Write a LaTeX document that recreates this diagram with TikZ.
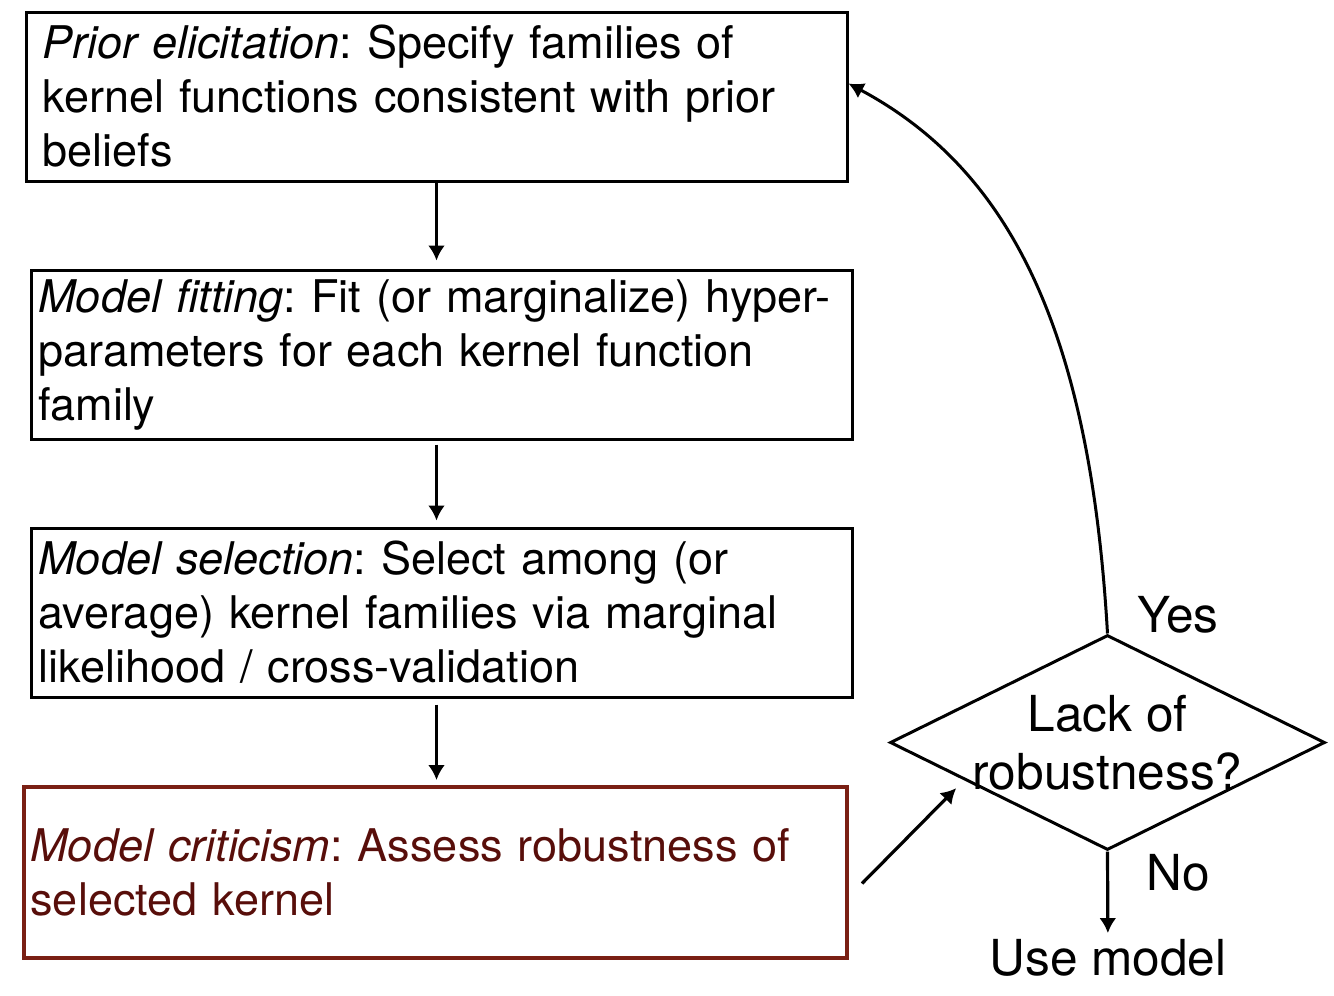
\documentclass[tikz,border=0pt]{standalone}
\usepackage{fontspec}
\setmainfont{TeX Gyre Heros}
\usetikzlibrary{shapes.geometric,arrows.meta,calc}
\definecolor{critline}{RGB}{122,32,20}
\definecolor{crittext}{RGB}{88,14,10}
\frenchspacing

\begin{document}
\begin{tikzpicture}[x=.5pt,y=-.5pt,font=\fontsize{22.5}{27}\selectfont,
    stage/.style={draw,line width=1.5pt,minimum width=410.5pt,minimum height=84.5pt,
      text width=403pt,align=left,inner xsep=3.5pt},
    link/.style={line width=1.6pt,-{Latex[length=7.5pt,width=8.5pt]}},
    big/.style={font=\fontsize{24.8}{29}\selectfont}]
      \useasboundingbox (0,0) rectangle (1334,996);
      \node[stage,text width=394pt,inner xsep=8pt] (prior) at (436.5,96.5)
        {\textit{Prior elicitation}: Specify families of\\kernel functions consistent with prior\\beliefs};
      \node[stage] (fit) at (441.5,354.5)
        {\textit{Model fitting}: Fit (or marginalize) hyper-\\parameters for each kernel function\\family};
      \node[stage] (select) at (441.5,612.5)
        {\textit{Model selection}: Select among (or\\average) kernel families via marginal\\likelihood / cross-validation};
      \node[stage,draw=critline,text=crittext,line width=2pt,minimum width=411.5pt,
        minimum height=85.5pt,inner xsep=3pt,text width=405pt] (crit) at (435.5,872.5)
        {\textit{Model criticism}: Assess robustness of\\selected kernel};
      \node[draw,diamond,line width=1.5pt,minimum width=217.5pt,minimum height=107.5pt,
        inner sep=0pt] (check) at (1107.5,742.5) {};
      \node[big,align=center] (ask) at (check) {Lack of\\robustness?};
      \node[big,inner ysep=3pt] (use) at (1108,958) {Use model};
      \node[big] (yes) at (1178,615) {Yes};
      \node[big] (no) at (1178,873) {No};
      \draw[link,shorten >=4pt] (prior.south) -- (prior.south |- fit.north);
      \draw[link,shorten <=2pt,shorten >=3pt] (prior.south |- fit.south) -- (prior.south |- select.north);
      \draw[link,shorten <=3pt,shorten >=2.5pt] (prior.south |- select.south) -- (prior.south |- crit.north);
      \draw[link] ([shift={(13,11)}]crit.east) -- ([shift={(2,13)}]$(check.west)!.3!(check.south)$);
      \draw[link] (check.south) -- (use);
      \draw[link,line width=1.5pt] (check.north) .. controls (1090,330) and (1010,170) .. ([yshift=6.5pt]prior.east);
    \end{tikzpicture}
\end{document}
